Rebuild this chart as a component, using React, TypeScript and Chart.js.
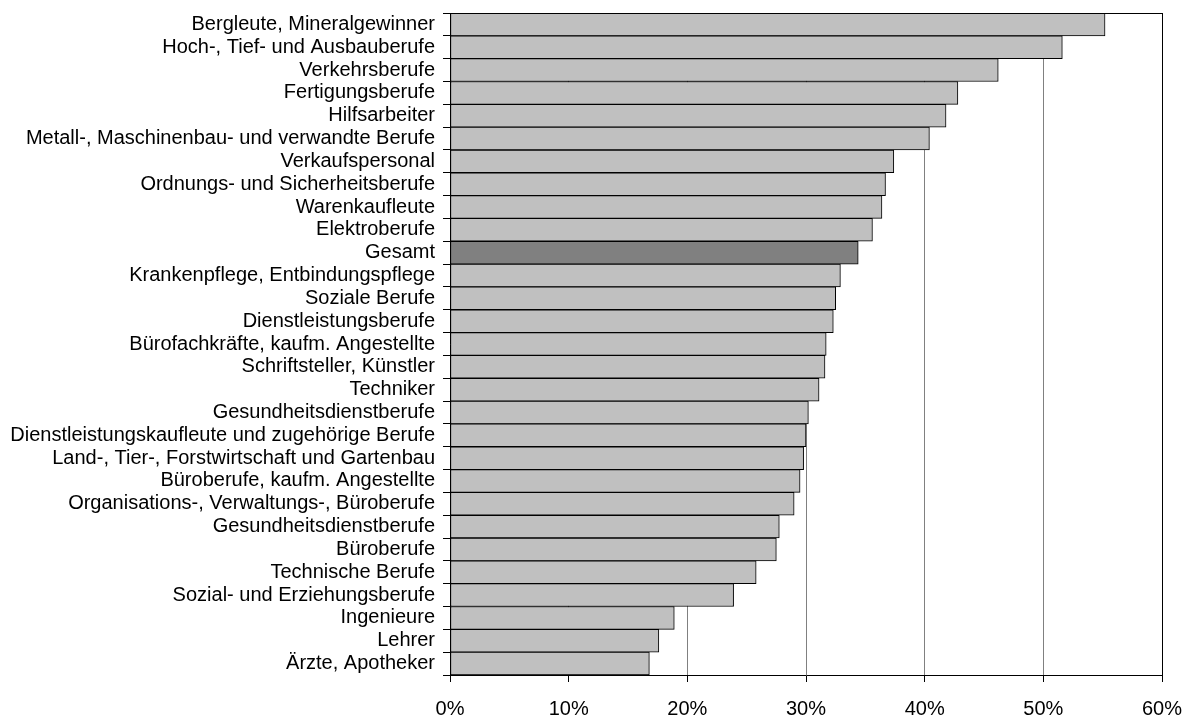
import React, { useEffect, useRef } from "react";
import { Chart, registerables } from "chart.js";

Chart.register(...registerables);

const categories: string[] = [
  "Bergleute, Mineralgewinner",
  "Hoch-, Tief- und Ausbauberufe",
  "Verkehrsberufe",
  "Fertigungsberufe",
  "Hilfsarbeiter",
  "Metall-, Maschinenbau- und verwandte Berufe",
  "Verkaufspersonal",
  "Ordnungs- und Sicherheitsberufe",
  "Warenkaufleute",
  "Elektroberufe",
  "Gesamt",
  "Krankenpflege, Entbindungspflege",
  "Soziale Berufe",
  "Dienstleistungsberufe",
  "Bürofachkräfte, kaufm. Angestellte",
  "Schriftsteller, Künstler",
  "Techniker",
  "Gesundheitsdienstberufe",
  "Dienstleistungskaufleute und zugehörige Berufe",
  "Land-, Tier-, Forstwirtschaft und Gartenbau",
  "Büroberufe, kaufm. Angestellte",
  "Organisations-, Verwaltungs-, Büroberufe",
  "Gesundheitsdienstberufe",
  "Büroberufe",
  "Technische Berufe",
  "Sozial- und Erziehungsberufe",
  "Ingenieure",
  "Lehrer",
  "Ärzte, Apotheker",
];

const values: number[] = [
  55.2, 51.6, 46.2, 42.8, 41.8, 40.4, 37.4, 36.7, 36.4, 35.6, 34.4, 32.9, 32.5,
  32.3, 31.7, 31.6, 31.1, 30.2, 30.0, 29.8, 29.5, 29.0, 27.75, 27.5, 25.8, 23.9,
  18.9, 17.6, 16.8,
];

const highlightIndex = 10; // "Gesamt"
const xTickValues: number[] = [0, 10, 20, 30, 40, 50, 60];

const FONT = "'Liberation Sans', Arial, sans-serif";

const framePlugin = {
  id: "frameTop",
  afterDatasetsDraw(chart: any) {
    const { ctx, chartArea } = chart;
    ctx.save();
    ctx.strokeStyle = "#000";
    ctx.lineWidth = 1;
    ctx.beginPath();
    ctx.moveTo(chartArea.left, Math.round(chartArea.top) + 0.5);
    ctx.lineTo(chartArea.right, Math.round(chartArea.top) + 0.5);
    ctx.stroke();
    ctx.restore();
  },
};

export default function App() {
  const ref = useRef<HTMLCanvasElement | null>(null);

  useEffect(() => {
    if (!ref.current) return;
    const chart = new Chart(ref.current, {
      type: "bar",
      data: {
        labels: categories,
        datasets: [
          {
            data: values,
            backgroundColor: categories.map((_, i) =>
              i === highlightIndex ? "#808080" : "#c0c0c0"
            ),
            borderColor: "#000000",
            borderWidth: 1,
            borderSkipped: false,
            categoryPercentage: 1,
            barPercentage: 1,
          },
        ],
      },
      options: {
        indexAxis: "y",
        animation: false,
        responsive: true,
        maintainAspectRatio: false,
        layout: { padding: { left: 0, top: 13, right: 31, bottom: 0 } },
        plugins: {
          legend: { display: false },
          tooltip: { enabled: false },
        },
        scales: {
          x: {
            type: "linear",
            min: 0,
            max: 60,
            afterBuildTicks: (scale: any) => {
              scale.ticks = xTickValues.map((v) => ({ value: v }));
            },
            afterFit: (scale: any) => {
              scale.height = 45;
              scale.paddingLeft = 0;
              scale.paddingRight = 0;
            },
            border: { display: true, color: "#000", width: 1 },
            grid: {
              drawOnChartArea: true,
              drawTicks: true,
              tickLength: 7,
              tickColor: "#000",
              color: (ctx: any) => {
                const v = ctx.tick ? ctx.tick.value : null;
                if (v === 60) return "#000";
                if (v === 0) return "rgba(0,0,0,0)";
                return "#808080";
              },
              lineWidth: 1,
            },
            ticks: {
              color: "#000",
              font: { family: FONT, size: 20 },
              padding: 15,
              maxRotation: 0,
              callback: (v: any) => `${v}%`,
            },
          },
          y: {
            type: "category",
            afterFit: (scale: any) => {
              scale.width = 450;
              scale.paddingTop = 0;
              scale.paddingBottom = 0;
            },
            border: { display: true, color: "#000", width: 1 },
            grid: {
              drawOnChartArea: false,
              drawTicks: true,
              tickLength: 7,
              color: "#000",
              tickColor: "#000",
              offset: true,
            },
            ticks: {
              color: "#000",
              font: { family: FONT, size: 20 },
              padding: 8,
              autoSkip: false,
            },
          },
        },
      },
      plugins: [framePlugin],
    } as any);
    return () => chart.destroy();
  }, []);

  return (
    <div
      style={{
        position: "fixed",
        left: 0,
        top: 0,
        width: 1193,
        height: 720,
        background: "#fff",
      }}
    >
      <canvas ref={ref} />
    </div>
  );
}
